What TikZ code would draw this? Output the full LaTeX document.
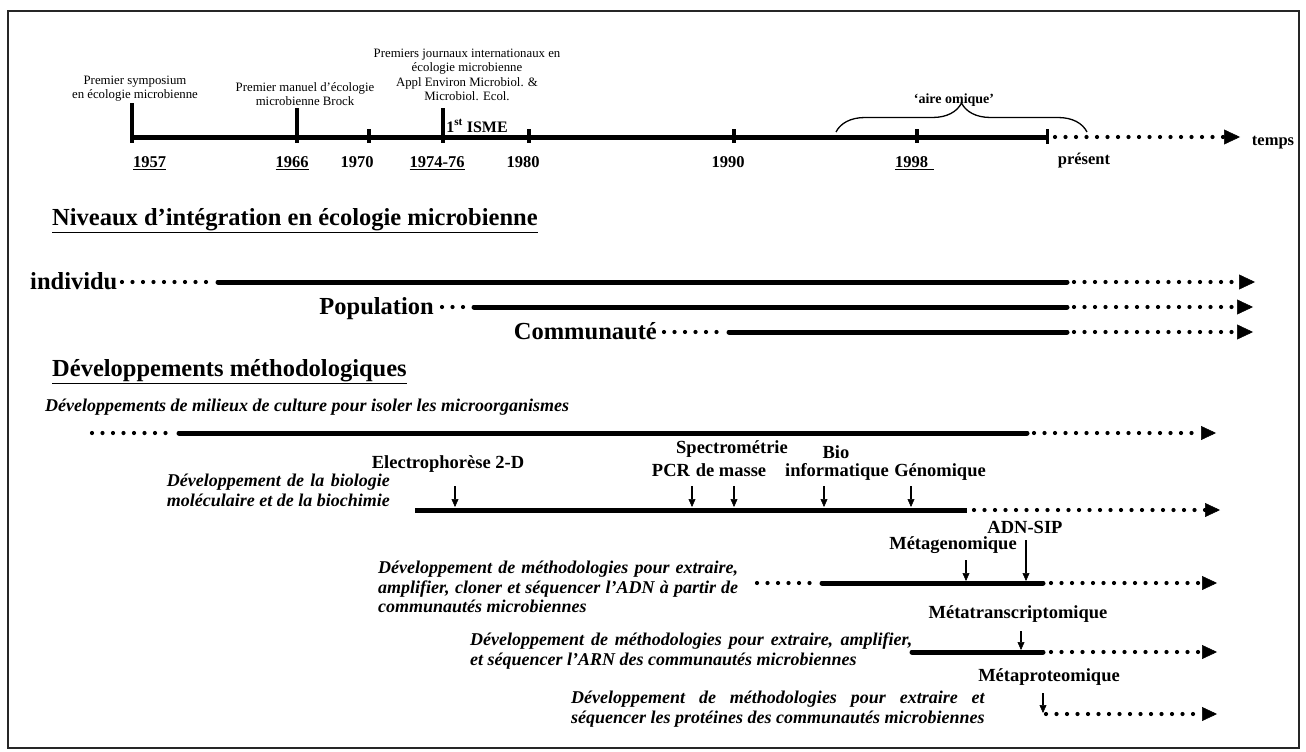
\documentclass[tikz,border=0pt]{standalone}
\usepackage{fontspec}
\setmainfont{Liberation Serif}
\usetikzlibrary{arrows.meta,decorations.pathreplacing}
\newsavebox\jbox
\newcommand\spreadto[2]{\makebox[#1][s]{#2}}
\newcommand\matchline[2]{\sbox\jbox{#2}\makebox[\wd\jbox][s]{#1}\\#2}
\newcommand\undl[2][-3pt]{\sbox\jbox{#2}\leavevmode\rlap{\rule[#1]{\wd\jbox}{1.4pt}}\usebox\jbox}
\begin{document}
\begin{tikzpicture}[x=1pt,y=-1pt,
  every node/.style={inner sep=0pt},
  year/.style={anchor=base, font=\fontsize{16.5}{18}\selectfont\bfseries},
  note/.style={align=center, anchor=north, font=\fontsize{12.8}{14.3}\selectfont},
  title/.style={anchor=base west, font=\fontsize{24.5}{28}\selectfont\bfseries},
  level/.style={anchor=base east, font=\fontsize{24.5}{28}\selectfont\bfseries},
  meth/.style={anchor=base, font=\fontsize{18.5}{20}\selectfont\bfseries},
  desc/.style={align=left, font=\fontsize{18}{19.5}\selectfont\bfseries\itshape},
  bar/.style={line width=5pt},
  rbar/.style={line width=5pt, line cap=round},
  tick/.style={line width=4pt},
  dots/.style={line width=4.2pt, line cap=round, dash pattern=on 0pt off 10.5pt},
  bigtip/.style={-{Triangle[length=16pt,width=15pt,line width=0.5pt]}},
  midtip/.style={-{Triangle[length=15pt,width=14pt,line width=0.5pt]}},
  ptr/.style={line width=1.3pt, -{Triangle[length=8pt,width=7pt,line width=0.5pt]}}
]
\useasboundingbox (0,0) rectangle (1306,752);
\draw[line width=1.5pt, black!85] (8,11) rectangle (1299,748);

% ---------- timeline ----------
\coordinate (tA) at (132,137);
\coordinate (tP) at (1047,137);
\coordinate (tD) at (1055,137);
\coordinate (tE) at (1240,137);
\draw[bar] (tA) -- (tP);
\foreach \x/\t in {132/103,297/108,369/129,443/108,529/129,734/129,917/129}
  \draw[tick] (\x,\t) -- (\x,143);
\draw[line width=3pt] (1047,129) -- (1047,144);
\draw[dots, bigtip] (tD) -- (tE);

\node[year, anchor=base west] (y57) at (133,167) {\undl{1957}};
\node[year] (y66) at (292,167) {\undl{1966}};
\node[year] (y70) at (357,167) {1970};
\node[year] (y74) at (437,167) {\undl{1974-76}};
\node[year] (y80) at (523,167) {1980};
\node[year] (y90) at (728,167) {1990};
\node[year, anchor=base west] (y98) at (895,167) {\undl{1998\,\,}};
\node[year] (ypr) at (1084,164) {présent};
\node[year] (temps) at (1273,145) {temps};

\node[note] (n57) at (135,76) {Premier symposium\\en écologie microbienne};
\node[note] (n66) at (305,82) {Premier manuel d’écologie\\microbienne Brock};
\node[note] (n74) at (467,49) {Premiers journaux internationaux en\\écologie microbienne\\Appl Environ Microbiol. \&\\Microbiol. Ecol.};
\node[anchor=base, font=\fontsize{16}{18}\selectfont\bfseries] (isme) at (477,132) {1\textsuperscript{st} ISME};

\coordinate (bL) at (836,132);
\coordinate (bR) at (1087,132);
\draw[line width=1.3pt, decorate, decoration={brace, amplitude=29pt}] (bL) -- (bR);
\node[anchor=base, font=\fontsize{14}{16}\selectfont\bfseries] (omique) at (954,103) {‘aire omique’};

% ---------- levels ----------
\node[title] (niv) at (52,225) {\undl[-8pt]{Niveaux d’intégration en écologie microbienne}};

\node[level, anchor=base west] (ind) at (30,289) {individu};
\coordinate (i1) at (122,282); \coordinate (i2) at (212,282);
\coordinate (i3) at (218,282); \coordinate (i4) at (1067,282);
\coordinate (i5) at (1074,282); \coordinate (i6) at (1255,282);
\draw[dots] (i1) -- (i2);
\draw[rbar] (i3) -- (i4);
\draw[dots, bigtip] (i5) -- (i6);

\node[level] (pop) at (434,314) {Population};
\coordinate (p1) at (442,307); \coordinate (p2) at (466,307);
\coordinate (p3) at (474,307); \coordinate (p4) at (1067,307);
\coordinate (p5) at (1074,307); \coordinate (p6) at (1253,307);
\draw[dots] (p1) -- (p2);
\draw[rbar] (p3) -- (p4);
\draw[dots, bigtip] (p5) -- (p6);

\node[level] (com) at (657,339) {Communauté};
\coordinate (c1) at (664,332); \coordinate (c2) at (720,332);
\coordinate (c3) at (729,332); \coordinate (c4) at (1067,332);
\coordinate (c5) at (1074,332); \coordinate (c6) at (1253,332);
\draw[dots] (c1) -- (c2);
\draw[rbar] (c3) -- (c4);
\draw[dots, bigtip] (c5) -- (c6);

% ---------- methods ----------
\node[title] (meth) at (52,376) {\undl[-8pt]{Développements méthodologiques}};

\node[desc, anchor=base west] (mil) at (45,411) {Développements de milieux de culture pour isoler les microorganismes};
\coordinate (m1) at (92,433); \coordinate (m2) at (172,433);
\coordinate (m3) at (179,433); \coordinate (m4) at (1027,433);
\coordinate (m5) at (1034,433); \coordinate (m6) at (1216,433);
\draw[dots] (m1) -- (m2);
\draw[rbar] (m3) -- (m4);
\draw[dots, midtip] (m5) -- (m6);

\node[desc, anchor=north east] (bio) at (390,474) {\matchline{Développement de la biologie}{moléculaire et de la biochimie}};
\coordinate (b1) at (415,510); \coordinate (b2) at (967,510);
\coordinate (b3) at (974,510); \coordinate (b4) at (1220,510);
\draw[bar] (b1) -- (b2);
\draw[dots, midtip] (b3) -- (b4);

\node[meth] (elec) at (448,468) {Electrophorèse 2-D};
\node[meth] (pcr) at (671,476) {PCR};
\node[meth] (spec) at (732,453) {Spectrométrie};
\node[meth] (masse) at (731,476) {de masse};
\node[meth] (bio1) at (836,458) {Bio};
\node[meth] (bio2) at (837,476) {informatique};
\node[meth] (geno) at (940,476) {Génomique};
\foreach \n/\x in {e/455,p/692,s/734,i/824,g/911}{
  \coordinate (a\n1) at (\x,486); \coordinate (a\n2) at (\x,507);
  \draw[ptr] (a\n1) -- (a\n2);
}

\node[meth] (sip) at (1025,533) {ADN-SIP};
\node[meth] (metag) at (953,549) {Métagenomique};
\coordinate (g1) at (966,560); \coordinate (g2) at (966,581);
\coordinate (s1) at (1026,540); \coordinate (s2) at (1026,581);
\draw[ptr] (g1) -- (g2);
\draw[ptr] (s1) -- (s2);

\node[desc, anchor=north west] (adn) at (378,561) {\spreadto{360pt}{Développement de méthodologies pour extraire,}\\\spreadto{360pt}{amplifier, cloner et séquencer l’ADN à partir de}\\communautés microbiennes};
\coordinate (d1) at (757,583); \coordinate (d2) at (815,583);
\coordinate (d3) at (822,583); \coordinate (d4) at (1043,583);
\coordinate (d5) at (1051,583); \coordinate (d6) at (1217,583);
\draw[dots] (d1) -- (d2);
\draw[rbar] (d3) -- (d4);
\draw[dots, midtip] (d5) -- (d6);

\node[meth] (metat) at (1018,618) {Métatranscriptomique};
\coordinate (r1) at (1021,631); \coordinate (r2) at (1021,650);
\draw[ptr] (r1) -- (r2);

\node[desc, anchor=north west] (arn) at (470,633) {\spreadto{442pt}{Développement de méthodologies pour extraire, amplifier,}\\et séquencer l’ARN des communautés microbiennes};
\coordinate (n1) at (912,652); \coordinate (n2) at (1043,652);
\coordinate (n3) at (1051,652); \coordinate (n4) at (1217,652);
\draw[rbar] (n1) -- (n2);
\draw[dots, midtip] (n3) -- (n4);

\node[meth] (metap) at (1049,681) {Métaproteomique};
\coordinate (q1) at (1043,693); \coordinate (q2) at (1043,713);
\draw[ptr] (q1) -- (q2);

\node[desc, anchor=north west] (prot) at (571,691) {\matchline{Développement de méthodologies pour extraire et}{séquencer les protéines des communautés microbiennes}};
\coordinate (o1) at (1046,714); \coordinate (o2) at (1217,714);
\draw[dots, midtip] (o1) -- (o2);
\end{tikzpicture}
\end{document}
